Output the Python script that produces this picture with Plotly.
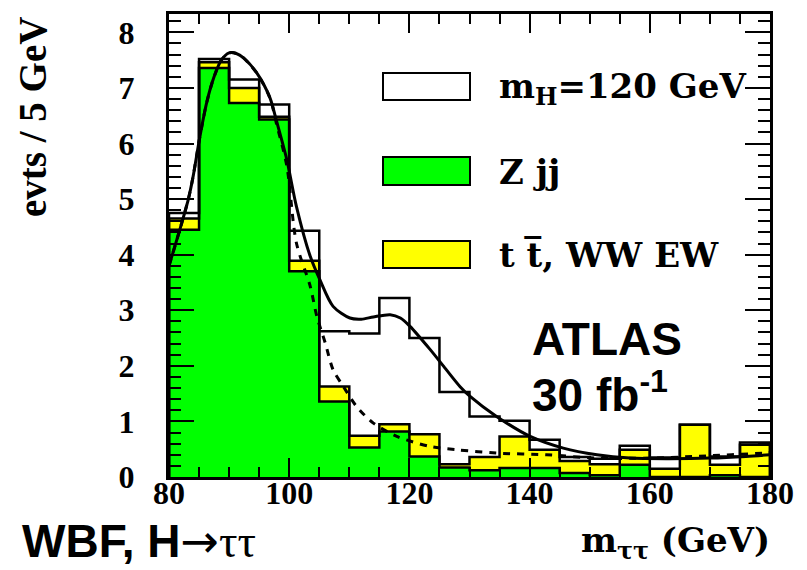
import plotly.graph_objects as go

# ---------------- data ----------------
bin_edges = [80, 85, 90, 95, 100, 105, 110, 115, 120, 125, 130,
             135, 140, 145, 150, 155, 160, 165, 170, 175, 180]
zjj = [4.45, 7.36, 6.73, 6.43, 3.70, 1.36, 0.53, 0.82, 0.37, 0.17,
       0.12, 0.16, 0.16, 0.07, 0.03, 0.22, 0.00, 0.00, 0.03, 0.00]
ttww = [0.20, 0.10, 0.27, 0.05, 0.19, 0.27, 0.21, 0.13, 0.40, 0.06,
        0.24, 0.57, 0.33, 0.22, 0.20, 0.27, 0.15, 0.94, 0.19, 0.58]
signal = [0.10, 0.06, 0.15, 0.22, 0.54, 0.99, 1.84, 2.27, 1.73, 1.30,
          0.73, 0.28, 0.18, 0.07, 0.10, 0.07, 0.20, 0.00, 0.15, 0.04]

fit_sb_x = [80, 81.8, 83.2, 84.0, 85.1, 86.3, 87.5, 88.7, 90.0, 91.2, 92.4,
            94.6, 96.8, 97.9, 99.6, 101.2, 103.5, 105.1, 107.3, 110.1, 112.0,
            114.0, 116.8, 118.5, 120.1, 123.4, 126.0, 128.4, 130.1, 134.5,
            140.1, 145.6, 151.2, 156.7, 163, 170, 176, 180]
fit_sb_y = [3.8, 4.45, 4.99, 5.4, 6.1, 6.75, 7.2, 7.5, 7.63, 7.62, 7.54,
            7.27, 6.82, 6.4, 5.71, 4.87, 3.97, 3.55, 3.07, 2.86, 2.84,
            2.88, 2.92, 2.86, 2.71, 2.3, 1.95, 1.63, 1.45, 1.09,
            0.73, 0.52, 0.40, 0.34, 0.33, 0.34, 0.37, 0.40]

fit_b_x = [80, 81.8, 83.2, 84.0, 85.1, 86.3, 87.5, 88.7, 90.0, 91.2, 92.4,
           94.6, 96.8, 97.9, 99.6, 101.2, 103.5, 104.6, 106.0, 107.3, 109.0,
           111.2, 114.0, 117.9, 123.4, 127.9, 134.5, 142.8, 151.2, 160,
           169.4, 178.8, 180]
fit_b_y = [3.8, 4.45, 4.99, 5.4, 6.1, 6.75, 7.2, 7.5, 7.63, 7.62, 7.54,
           7.27, 6.82, 6.35, 5.6, 4.21, 3.43, 2.89, 2.41, 1.93, 1.63,
           1.27, 0.97, 0.73, 0.55, 0.49, 0.43, 0.40, 0.34, 0.34,
           0.38, 0.43, 0.44]

legend_labels = ["m<sub>H</sub>=120 GeV", "Z jj", "t t\u0305, WW EW"]
legend_colors = ["#ffffff", "#00ff00", "#ffff00"]

y_ticks = [0, 1, 2, 3, 4, 5, 6, 7, 8]
x_ticks = [80, 100, 120, 140, 160, 180]

# ---------------- derived ----------------
centers = [(a + b) / 2 for a, b in zip(bin_edges[:-1], bin_edges[1:])]
widths = [b - a for a, b in zip(bin_edges[:-1], bin_edges[1:])]
cum_b1 = list(zjj)
cum_b2 = [a + b for a, b in zip(zjj, ttww)]
cum_all = [a + b for a, b in zip(cum_b2, signal)]

# page layout (the page body has an 8px default margin)
OFF = 8
PAGE_W, PAGE_H = 807, 570
PLOT_X0, PLOT_X1, PLOT_Y0, PLOT_Y1 = 169, 770, 14, 477
W, H = PAGE_W - OFF, PAGE_H - OFF
L, T = PLOT_X0 - OFF, PLOT_Y0 - OFF
R, B = PAGE_W - PLOT_X1, PAGE_H - PLOT_Y1
PW, PH = PLOT_X1 - PLOT_X0, PLOT_Y1 - PLOT_Y0


def px(x):
    return (x - PLOT_X0) / PW


def py(y):
    return (PLOT_Y1 - y) / PH


fig = go.Figure()

# fills (stacked)
for vals, col in [(zjj, "#00ff00"), (ttww, "#ffff00"), (signal, "#ffffff")]:
    fig.add_trace(go.Bar(x=centers, y=vals, width=widths,
                         marker=dict(color=col, line=dict(width=0)),
                         showlegend=False, hoverinfo="skip"))


def step(vals):
    xs = [bin_edges[0]] + bin_edges[:-1] + [bin_edges[-1], bin_edges[-1]]
    ys = [0] + list(vals) + [vals[-1], 0]
    return xs, ys


for vals in [cum_all, cum_b2, cum_b1]:
    sx, sy = step(vals)
    fig.add_trace(go.Scatter(x=sx, y=sy, mode="lines",
                             line=dict(color="black", width=2.5, shape="hv"),
                             showlegend=False, hoverinfo="skip"))

fig.add_trace(go.Scatter(x=fit_b_x, y=fit_b_y, mode="lines",
                         line=dict(color="black", width=3, dash="7px,7px",
                                   shape="spline", smoothing=0.8),
                         showlegend=False, hoverinfo="skip"))
fig.add_trace(go.Scatter(x=fit_sb_x, y=fit_sb_y, mode="lines",
                         line=dict(color="black", width=3,
                                   shape="spline", smoothing=0.8),
                         showlegend=False, hoverinfo="skip"))

tickfont = dict(family="Liberation Serif", size=32, color="black", weight="bold")

fig.update_layout(
    width=W, height=H,
    margin=dict(l=L, r=R, t=T, b=B, autoexpand=False),
    paper_bgcolor="white", plot_bgcolor="white",
    barmode="stack", bargap=0,
    showlegend=False,
    xaxis=dict(range=[80, 180], tickvals=x_ticks, ticks="inside", ticklen=19,
               tickwidth=2, tickcolor="black", showline=True, linecolor="black",
               linewidth=3, mirror="ticks", showgrid=False, zeroline=False,
               tickfont=tickfont, ticklabelstandoff=-14, automargin=False,
               minor=dict(dtick=5, tick0=80, ticks="inside", ticklen=10,
                          tickwidth=2, tickcolor="black", showgrid=False)),
    yaxis=dict(range=[0, 8.33], tickvals=y_ticks, ticks="inside", ticklen=25,
               tickwidth=2, tickcolor="black", showline=True, linecolor="black",
               linewidth=3, mirror="ticks", showgrid=False, zeroline=False,
               tickfont=tickfont, ticklabelstandoff=25, automargin=False,
               minor=dict(dtick=0.2, tick0=0, ticks="inside", ticklen=12,
                          tickwidth=2, tickcolor="black", showgrid=False)),
)

annos = []
# y title
annos.append(dict(text="evts / 5 GeV", x=px(33), y=py(117), xref="paper", yref="paper",
                  textangle=-90, showarrow=False, xanchor="center", yanchor="middle",
                  font=dict(family="Liberation Serif", size=39, color="black", weight="bold")))
# x title
annos.append(dict(text="m<sub>\u03c4\u03c4</sub> (GeV)", x=px(772), y=py(542),
                  xref="paper", yref="paper", showarrow=False,
                  xanchor="right", yanchor="middle",
                  font=dict(family="DejaVu Serif", size=34, color="black", weight="bold")))
# process label
annos.append(dict(text="WBF, H<span style='font-family:DejaVu Sans;font-weight:normal'>\u2192</span>"
                       "<span style='font-family:Liberation Serif;font-weight:normal'>\u03c4\u03c4</span>",
                  x=px(20), y=py(541),
                  xref="paper", yref="paper", showarrow=False,
                  xanchor="left", yanchor="middle",
                  font=dict(family="Liberation Sans", size=46, color="black", weight="bold")))
# ATLAS
annos.append(dict(text="ATLAS", x=px(607), y=py(339), xref="paper", yref="paper",
                  showarrow=False, xanchor="center", yanchor="middle",
                  font=dict(family="Liberation Sans", size=46, color="black", weight="bold")))
annos.append(dict(text="30 fb<sup>-1</sup>", x=px(530), y=py(392), xref="paper", yref="paper",
                  showarrow=False, xanchor="left", yanchor="middle",
                  font=dict(family="Liberation Sans", size=46, color="black", weight="bold")))

# legend
box_y = [(73, 100), (157, 185), (241, 268)]
text_y = [89, 172, 255]
shapes = []
for (y0, y1), col, lab, ty in zip(box_y, legend_colors, legend_labels, text_y):
    shapes.append(dict(type="rect", xref="paper", yref="paper",
                       x0=px(383), x1=px(470), y0=py(y1), y1=py(y0),
                       fillcolor=col, line=dict(color="black", width=2)))
    annos.append(dict(text=lab, x=px(497), y=py(ty), xref="paper", yref="paper",
                      showarrow=False, xanchor="left", yanchor="middle",
                      font=dict(family="DejaVu Serif", size=34, color="black", weight="bold")))

fig.update_layout(annotations=annos, shapes=shapes)
fig.write_html("out.html")
